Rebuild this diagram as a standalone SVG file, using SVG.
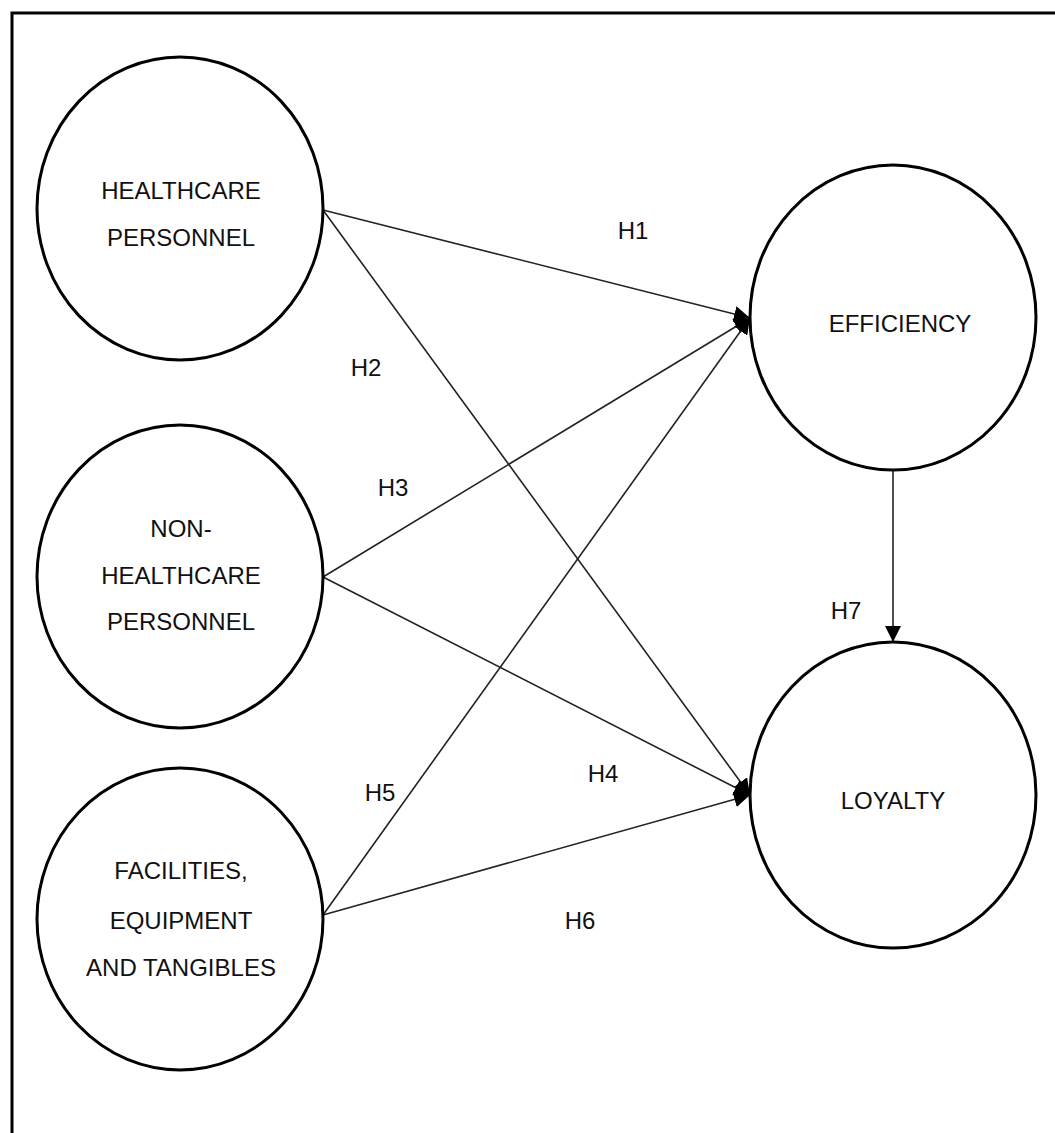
<svg xmlns="http://www.w3.org/2000/svg" width="1055" height="1133" viewBox="0 0 1055 1133">
<defs>
<style>
.node ellipse{fill:#fff;stroke:#000;stroke-width:3}
.node text,.lbl{font-family:"Liberation Sans",Arial,sans-serif;font-size:24px;fill:#111;text-anchor:middle}
.conn line{stroke:#222;stroke-width:1.6;fill:none}
</style>
<marker id="arr" markerUnits="userSpaceOnUse" markerWidth="18" markerHeight="16" refX="16" refY="8" orient="auto">
<path d="M0,0 L16,8 L0,16 Z" fill="#000"/>
</marker>
</defs>
<rect x="0" y="0" width="1055" height="1133" fill="#fff"/>
<rect x="12" y="13" width="1100" height="1200" fill="none" stroke="#000" stroke-width="3"/>
<g id="connectors" class="conn">
<line x1="323" y1="210" x2="750" y2="318" marker-end="url(#arr)"/>
<line x1="323" y1="210" x2="750" y2="795" marker-end="url(#arr)"/>
<line x1="323" y1="577" x2="750" y2="318" marker-end="url(#arr)"/>
<line x1="323" y1="577" x2="750" y2="795" marker-end="url(#arr)"/>
<line x1="323" y1="915" x2="750" y2="318" marker-end="url(#arr)"/>
<line x1="323" y1="915" x2="750" y2="795" marker-end="url(#arr)"/>
<line x1="893" y1="470" x2="893" y2="642" marker-end="url(#arr)"/>
</g>
<g id="labels">
<text class="lbl" x="633" y="239">H1</text>
<text class="lbl" x="366" y="376">H2</text>
<text class="lbl" x="393" y="496">H3</text>
<text class="lbl" x="603" y="782">H4</text>
<text class="lbl" x="380" y="801">H5</text>
<text class="lbl" x="580" y="929">H6</text>
<text class="lbl" x="846" y="619">H7</text>
</g>
<g id="healthcare" class="node">
<ellipse cx="180" cy="208.5" rx="143" ry="151.5"/>
<text x="181" y="199">HEALTHCARE</text>
<text x="181" y="246">PERSONNEL</text>
</g>
<g id="nonhealthcare" class="node">
<ellipse cx="180" cy="576.5" rx="143" ry="151.5"/>
<text x="181" y="537">NON-</text>
<text x="181" y="584">HEALTHCARE</text>
<text x="181" y="630">PERSONNEL</text>
</g>
<g id="facilities" class="node">
<ellipse cx="180" cy="919" rx="143" ry="151"/>
<text x="181" y="879">FACILITIES,</text>
<text x="181" y="929">EQUIPMENT</text>
<text x="181" y="976">AND TANGIBLES</text>
</g>
<g id="efficiency" class="node">
<ellipse cx="893" cy="317.5" rx="143" ry="152.5"/>
<text x="900" y="332">EFFICIENCY</text>
</g>
<g id="loyalty" class="node">
<ellipse cx="893" cy="795" rx="143" ry="153"/>
<text x="893" y="809">LOYALTY</text>
</g>
</svg>
